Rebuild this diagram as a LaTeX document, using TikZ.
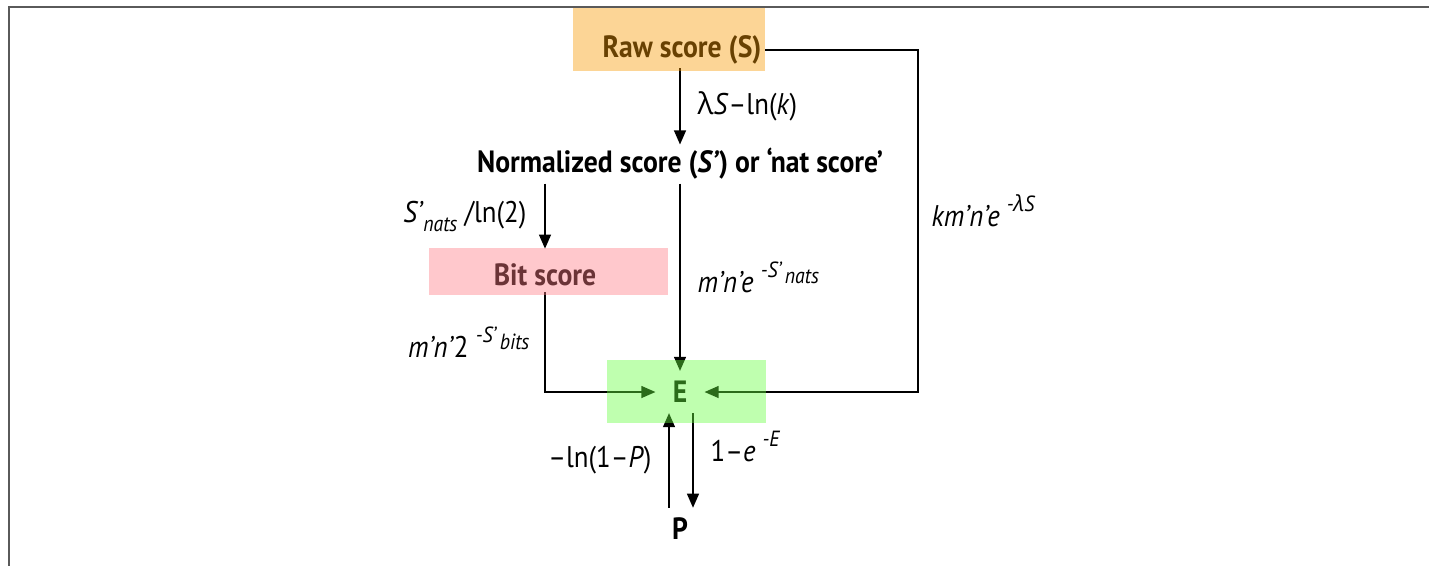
\documentclass[tikz,border=0pt]{standalone}
\usepackage{fontspec}
\setmainfont{PT Sans}[FakeStretch=0.9]
\newfontfamily\grk{Open Sans}
\usetikzlibrary{arrows.meta,calc}
\definecolor{framegray}{RGB}{90,90,90}
\definecolor{rawbg}{RGB}{248,155,5}
\definecolor{bitbg}{RGB}{255,124,133}
\definecolor{ebg}{RGB}{103,255,64}
\newcommand{\lam}{{\grk λ}}
\newcommand{\upx}[1]{\raisebox{0.5em}{\fontsize{12.5}{14}\selectfont\itshape #1}}
\newcommand{\dnx}[1]{\raisebox{-0.3em}{\fontsize{12.5}{14}\selectfont\itshape #1}}

\begin{document}
\begin{tikzpicture}[x=0.02cm,y=-0.02cm,
  box/.style={font=\fontsize{17.5}{20}\selectfont\bfseries,inner sep=2pt},
  arr/.style={line width=0.8pt,-{Triangle[length=8pt,width=6.8pt]}},
  lab/.style={font=\fontsize{17}{20}\selectfont,inner sep=0pt},
  tint/.style={fill opacity=0.42}]
  \useasboundingbox (0,0) rectangle (1429,566);
  \draw[framegray,line width=1.1pt] (1429,7) -- (9,7) -- (9,566);

  \node[box] (raw) at (682,50) {Raw score (S)};
  \node[box] (norm) at (680,164) {Normalized score (\textit{S’}) or ‘nat score’};
  \node[box,anchor=base,inner sep=0pt,text height=0.72cm,text depth=0.14cm] (bit) at (545,285) {Bit score};
  \node[box,inner xsep=0.34cm,inner ysep=0.2cm] (E) at (680,392) {E};
  \node[box,inner ysep=0.2cm] (P) at (680,529) {P};
  \coordinate (rr) at (918,0);

  \draw[arr] (raw.south -| norm) -- node[lab,right=0.34cm] {\lam\textit{S}–ln(\textit{k})} (norm.north);
  \draw[arr] (raw.east) -- (raw.east -| rr) -- node[lab,pos=0.47,right=0.26cm] {\textit{km’n’e} \upx{-\lam S}} (E.east -| rr) -- (E.east);
  \draw[arr] (norm.south) -- node[lab,right=0.34cm] {\textit{m’n’e} \upx{-S’\,\dnx{nats}}} (E.north);
  \draw[arr] (norm.south -| bit.north) -- node[lab,left=0.36cm] {\textit{S’}\dnx{nats} /ln(2)} (bit.north);
  \draw[arr] (bit.south) -- node[lab,left=0.3cm] {\textit{m’n’}2 \upx{-S’\,\dnx{bits}}} (bit.south |- E.west) -- (E.west);
  \draw[arr] ([xshift=-0.22cm]P.north) -- node[lab,left=0.34cm] {–ln(1–\textit{P})} ([xshift=-0.22cm]E.south);
  \draw[arr] ([xshift=0.26cm]E.south) -- node[lab,pos=0.35,right=0.34cm] {1–\textit{e} \upx{-E}} ([xshift=0.26cm]P.north);

  \fill[rawbg,tint] (573,8) rectangle (765,71);
  \fill[bitbg,tint] (429,248) rectangle (668,295);
  \fill[ebg,tint] (607,360) rectangle (766,423);
\end{tikzpicture}
\end{document}
